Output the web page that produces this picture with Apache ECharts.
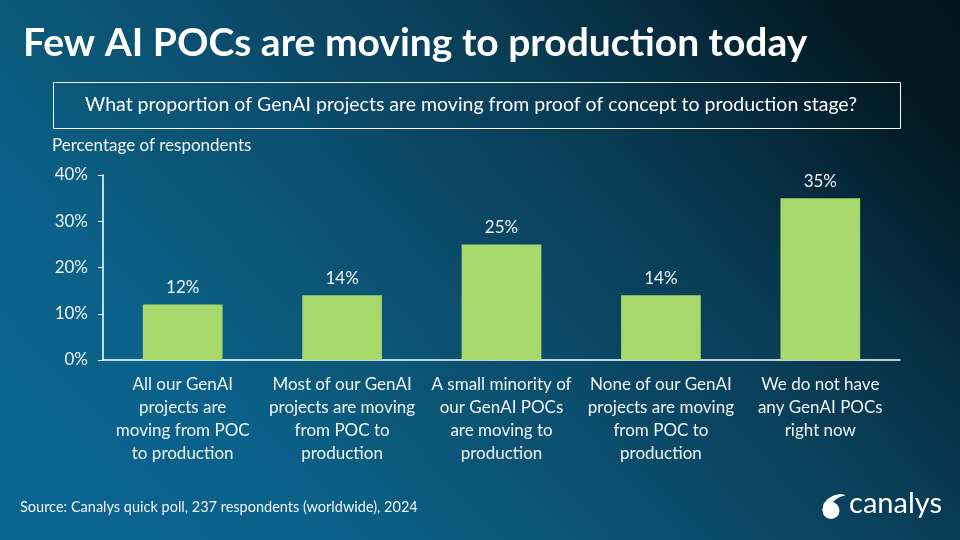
<!DOCTYPE html>
<html><head><meta charset="utf-8">
<script src="https://cdn.jsdelivr.net/npm/echarts@6/dist/echarts.min.js"></script>
<style>html,body{margin:0;padding:0;}#c{width:960px;height:540px;}</style>
</head><body><div id="c"></div>
<script>
var categories = [
  "All our GenAI\nprojects are\nmoving from POC\nto production",
  "Most of our GenAI\nprojects are moving\nfrom POC to\nproduction",
  "A small minority of\nour GenAI POCs\nare moving to\nproduction",
  "None of our GenAI\nprojects are moving\nfrom POC to\nproduction",
  "We do not have\nany GenAI POCs\nright now"
];
var values = [12, 14, 25, 14, 35];
var yTicks = [0, 10, 20, 30, 40];
var titleText = "Few AI POCs are moving to production today";
var questionText = "What proportion of GenAI projects are moving from proof of concept to production stage?";
var yAxisTitle = "Percentage of respondents";
var sourceText = "Source: Canalys quick poll, 237 respondents (worldwide), 2024";

var FONT = "Lato";
var chart = echarts.init(document.getElementById('c'));
chart.setOption({
  animation: false,
  backgroundColor: {
    type: 'linear', x: 0, y: 540, x2: 788, y2: -187, global: true,
    colorStops: [
      {offset: 0, color: '#0a6592'},
      {offset: 0.25, color: '#0a6088'},
      {offset: 0.34, color: '#0b5878'},
      {offset: 0.45, color: '#0b4f70'},
      {offset: 0.66, color: '#093c54'},
      {offset: 0.80, color: '#05283a'},
      {offset: 0.91, color: '#021820'},
      {offset: 1, color: '#03131c'}
    ]
  },
  title: {
    text: titleText, left: 18, top: 19,
    textStyle: {color: '#ffffff', fontFamily: FONT, fontWeight: 'bold', fontSize: 39}
  },
  grid: {left: 103, right: 60, top: 175, bottom: 180},
  xAxis: {
    type: 'category', data: categories,
    axisLine: {lineStyle: {color: '#ffffff', width: 1.5}},
    axisTick: {show: false},
    axisLabel: {color: '#f2f5f7', fontFamily: FONT, fontSize: 17, lineHeight: 23, margin: 13, interval: 0}
  },
  yAxis: {
    type: 'value', min: 0, max: 40, interval: 10,
    name: yAxisTitle, nameLocation: 'end', nameGap: 21,
    nameTextStyle: {color: '#f2f5f7', fontFamily: FONT, fontSize: 17, align: 'left', padding: [0, 0, 0, -51]},
    axisLine: {show: true, lineStyle: {color: '#ffffff', width: 1.5}},
    axisTick: {show: true, length: 5, lineStyle: {color: '#ffffff'}},
    splitLine: {show: false},
    axisLabel: {color: '#f2f5f7', fontFamily: FONT, fontSize: 17, margin: 15,
      formatter: function (v) { return yTicks.indexOf(v) >= 0 ? v + '%' : ''; }}
  },
  series: [{
    type: 'bar', data: values, barWidth: '50%',
    itemStyle: {color: '#a6d86b'},
    label: {show: true, position: 'top', distance: 8, color: '#f2f5f7', fontFamily: FONT, fontSize: 17,
      formatter: function (p) { return p.value + '%'; }}
  }],
  graphic: [
    {type: 'rect', shape: {x: 53.5, y: 82.5, width: 847, height: 46},
     style: {fill: 'none', stroke: '#ffffff', lineWidth: 1}},
    {type: 'text', x: 471, y: 105,
     style: {text: questionText, fill: '#ffffff', font: '19.5px ' + FONT, textAlign: 'center', textVerticalAlign: 'middle'}},
    {type: 'text', x: 20, y: 507,
     style: {text: sourceText, fill: '#f2f5f7', font: '14.5px ' + FONT, textAlign: 'left', textVerticalAlign: 'middle'}},
    {type: 'text', x: 942, y: 504,
     style: {text: 'canalys', fill: '#ffffff', font: '29px ' + FONT, textAlign: 'right', textVerticalAlign: 'middle'}},
    {type: 'circle', shape: {cx: 831, cy: 510.5, r: 8.5}, style: {fill: '#ffffff'}},
    {type: 'polygon', shape: {points: [[822.5, 510], [823.5, 504], [827.5, 499], [833.5, 495.5], [840, 494], [846, 495], [840, 497], [835, 500], [831, 505], [829, 511]]},
     style: {fill: '#ffffff'}}
  ]
});
</script></body></html>
